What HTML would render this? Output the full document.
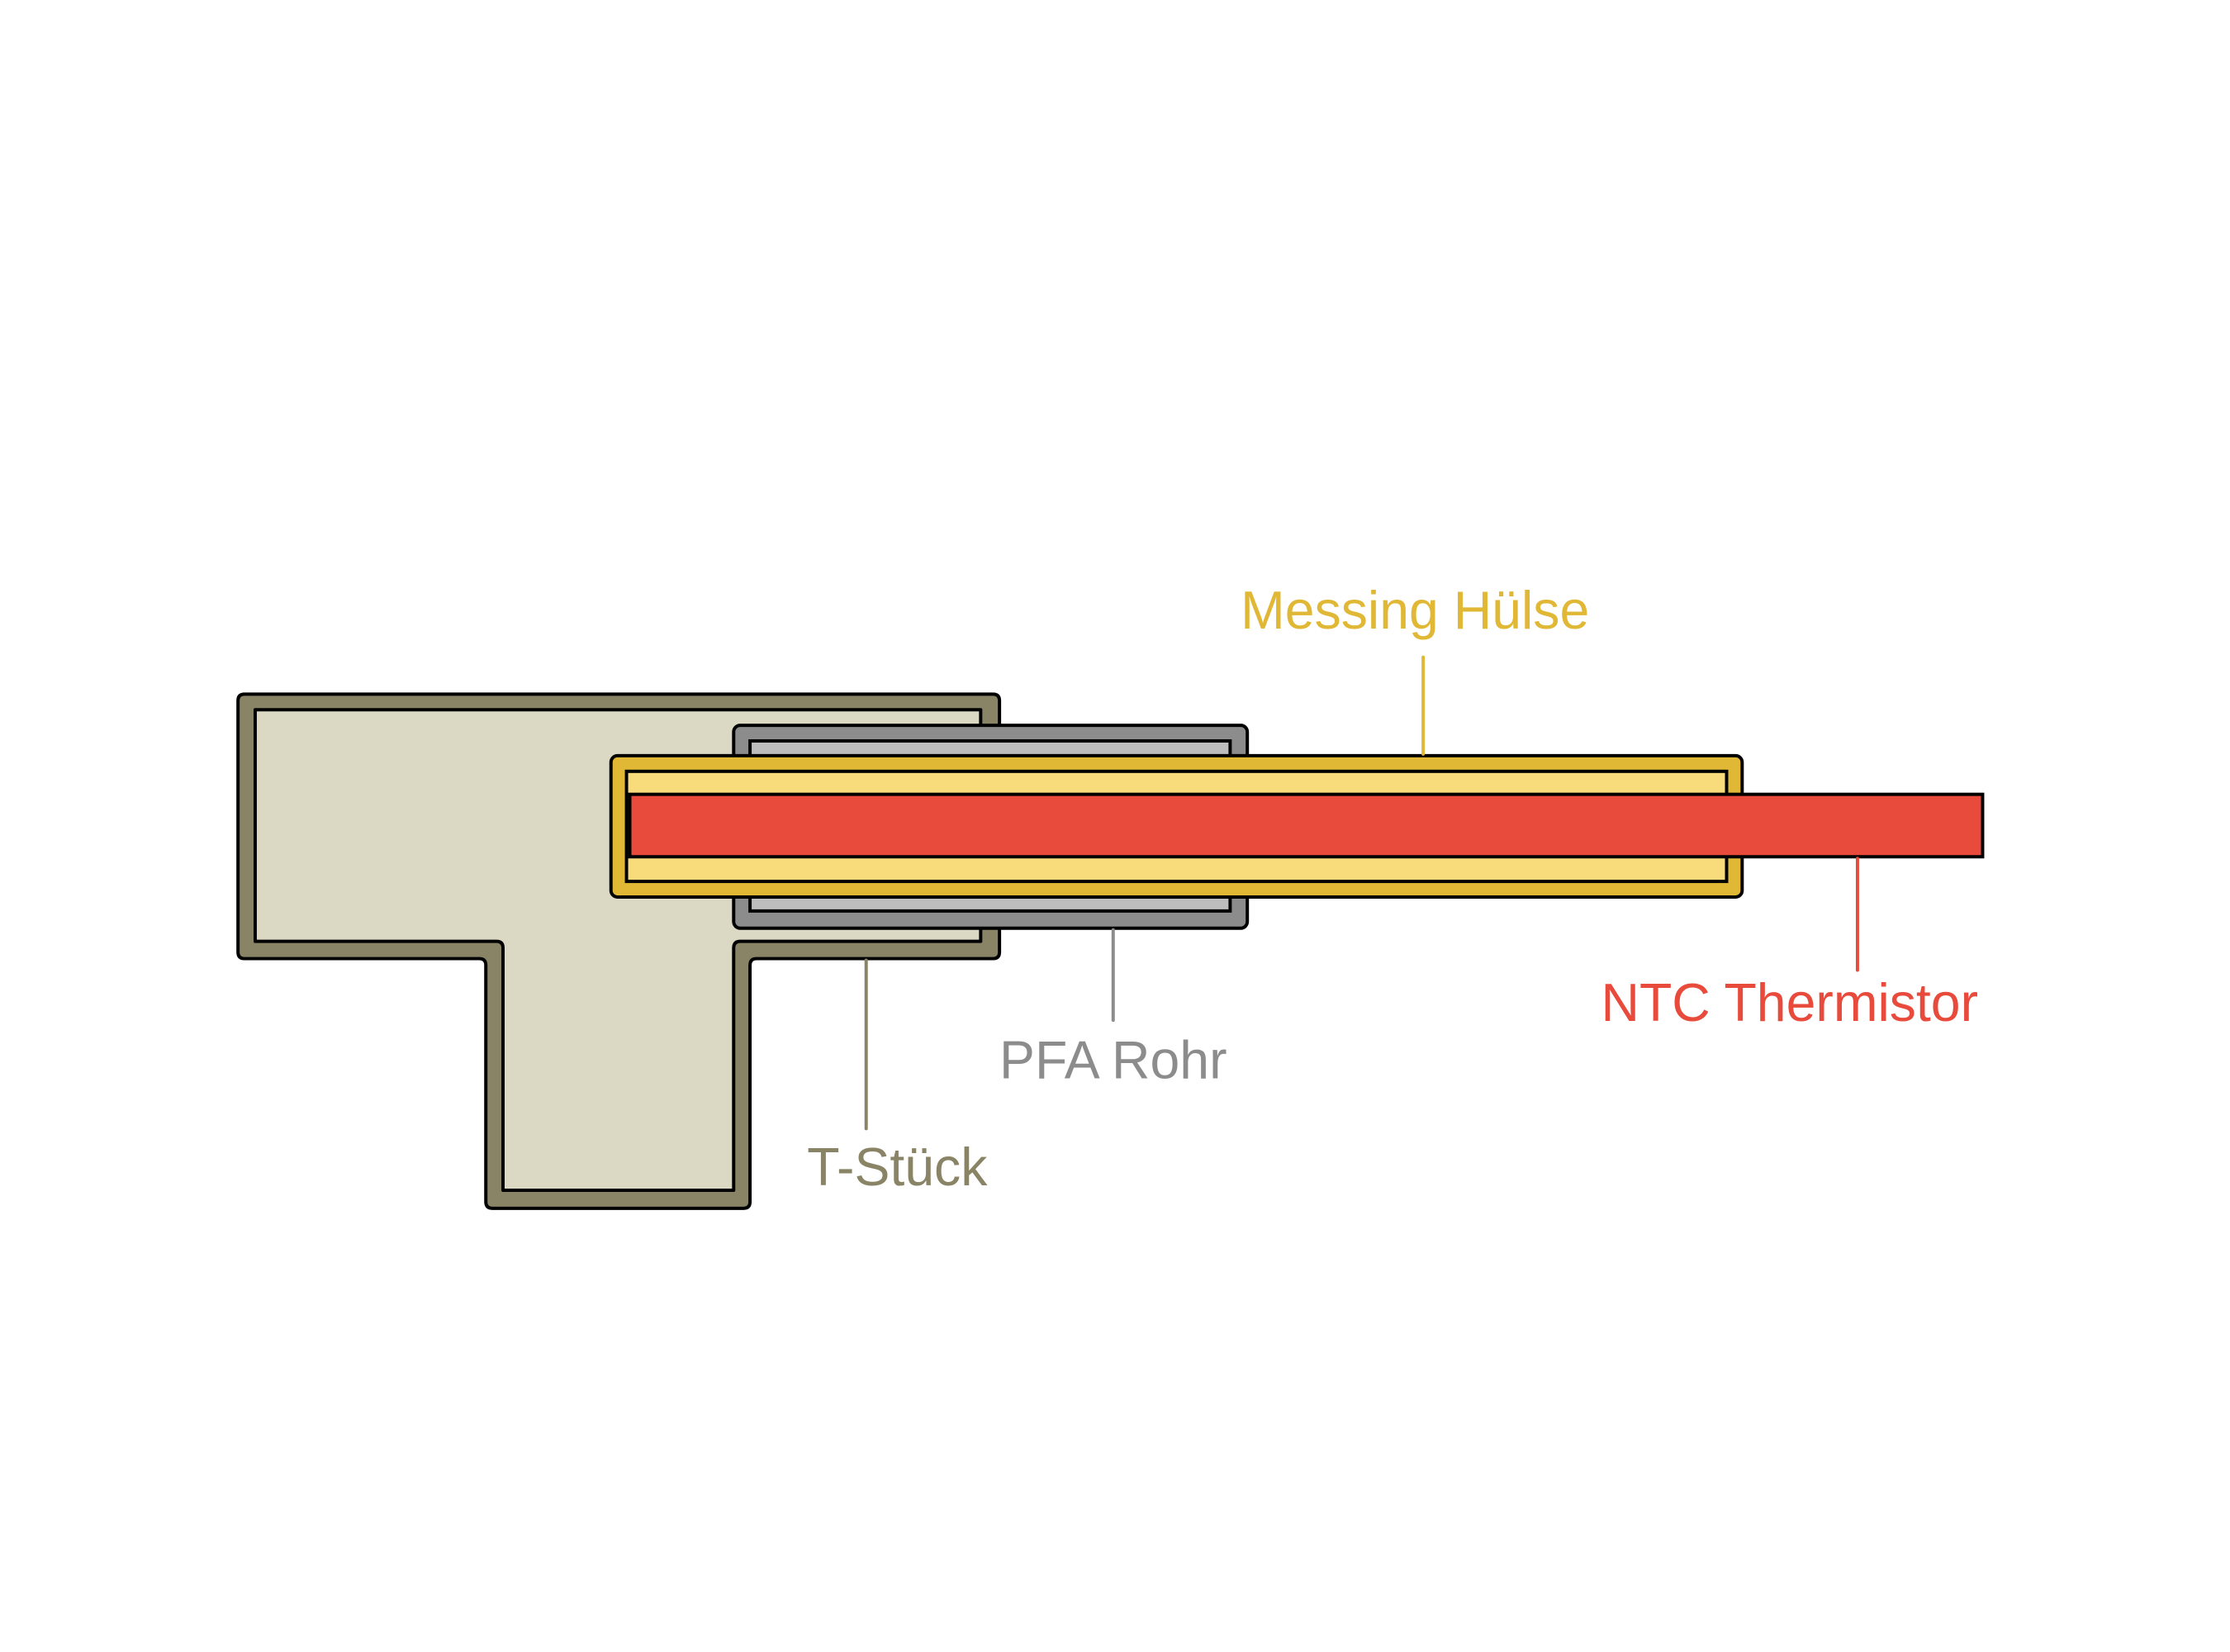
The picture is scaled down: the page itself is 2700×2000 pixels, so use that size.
<!DOCTYPE html>
<html><head><meta charset="utf-8"><style>
html,body{margin:0;padding:0;background:#fff;}
svg{display:block;}
text{font-family:"Liberation Sans",Arial,sans-serif;font-size:65px;}
</style></head><body>
<svg width="2700" height="2000" viewBox="0 0 2700 2000" xmlns="http://www.w3.org/2000/svg">
<rect width="2700" height="2000" fill="#fff"/>
<g transform="translate(-1,-4) scale(0.9903,0.9945)">
<!-- T piece -->
<path d="M300 849 H1215 Q1223 849 1223 857 V1163 Q1223 1171 1215 1171 H926 Q918 1171 918 1179 V1467 Q918 1475 910 1475 H603 Q595 1475 595 1467 V1179 Q595 1171 587 1171 H300 Q292 1171 292 1163 V857 Q292 849 300 849 Z" fill="#8a8466" stroke="#000" stroke-width="4" stroke-linejoin="round"/>
<path d="M313 868 H1200 V1150 H906 Q898 1150 898 1158 V1453 H616 V1158 Q616 1150 608 1150 H313 Z" fill="#dbd9c3" stroke="#000" stroke-width="4" stroke-linejoin="round"/>
<!-- PFA -->
<rect x="898" y="887" width="628" height="247" rx="8" fill="#8c8c8c" stroke="#000" stroke-width="4"/>
<rect x="918" y="906" width="587" height="207" fill="#bdbdbd" stroke="#000" stroke-width="4"/>
<!-- Messing -->
<rect x="748" y="924" width="1383" height="172" rx="8" fill="#e0b835" stroke="#000" stroke-width="4"/>
<rect x="767" y="943" width="1345" height="134" fill="#f8dc7c" stroke="#000" stroke-width="4"/>
<!-- NTC -->
<rect x="771" y="971" width="1654" height="76" fill="#e84b3c" stroke="#000" stroke-width="4"/>
<!-- leader lines -->
<line x1="1741" y1="804" x2="1741" y2="922" stroke="#e0b835" stroke-width="4" stroke-linecap="round"/>
<line x1="1362" y1="1136" x2="1362" y2="1246" stroke="#8c8c8c" stroke-width="4" stroke-linecap="round"/>
<line x1="1060" y1="1173" x2="1060" y2="1378" stroke="#8a8466" stroke-width="4" stroke-linecap="round"/>
<line x1="2272" y1="1049" x2="2272" y2="1185" stroke="#e84b3c" stroke-width="4" stroke-linecap="round"/>
<!-- labels -->
<text x="1731" y="769" fill="#e0b835" text-anchor="middle">Messing Hülse</text>
<text x="1362" y="1317" fill="#8c8c8c" text-anchor="middle">PFA Rohr</text>
<text x="1098" y="1447" fill="#8a8466" text-anchor="middle">T-Stück</text>
<text x="2189" y="1247" fill="#e84b3c" text-anchor="middle">NTC Thermistor</text>
</g>
</svg>
</body></html>
